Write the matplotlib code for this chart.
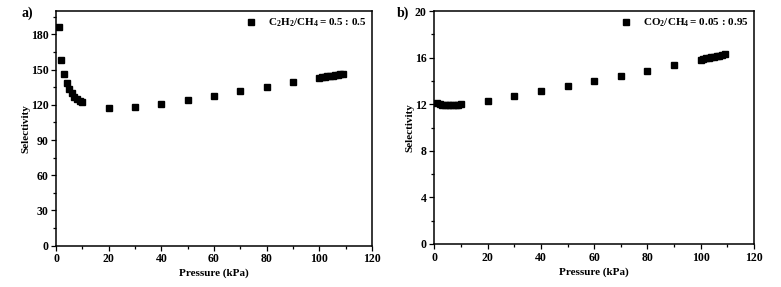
import numpy as np
import matplotlib
matplotlib.use("Agg")
import matplotlib.pyplot as plt
from matplotlib.ticker import MultipleLocator

plt.rcParams["font.family"] = "Liberation Serif"
plt.rcParams["font.weight"] = "bold"
plt.rcParams["mathtext.fontset"] = "custom"
plt.rcParams["mathtext.bf"] = "Liberation Serif:bold"
plt.rcParams["mathtext.rm"] = "Liberation Serif:bold"
plt.rcParams["mathtext.default"] = "bf"

# pressure points (kPa)
p = [1, 2, 3, 4, 5, 6, 7, 8, 9, 10, 20, 30, 40, 50, 60, 70, 80, 90,
     100, 101, 102, 103, 104, 105, 106, 107, 108, 109]

# a) C2H2/CH4 selectivity
sel_a = [186.3, 158.4, 146.4, 138.7, 133.6, 130.0, 127.0, 125.0, 123.4, 122.0,
         117.0, 117.9, 120.8, 124.2, 127.9, 131.6, 135.3, 139.3,
         143.0, 143.4, 143.8, 144.2, 144.6, 145.0, 145.4, 145.8, 146.2, 146.7]

# b) CO2/CH4 selectivity
sel_b = [12.10, 12.02, 11.97, 11.94, 11.92, 11.92, 11.93, 11.95, 11.97, 12.00,
         12.29, 12.69, 13.11, 13.54, 14.00, 14.46, 14.89, 15.34,
         15.83, 15.88, 15.93, 15.98, 16.03, 16.08, 16.13, 16.18, 16.23, 16.29]

fig = plt.figure(figsize=(7.81, 2.87), dpi=100)
ax1 = fig.add_axes([56/781, 1-245.6/287, (372-56)/781, (245.6-11)/287])
ax2 = fig.add_axes([434.3/781, 1-244/287, (754-434.3)/781, (244-11)/287])

def style(ax, ymax, ymaj, ymin):
    ax.set_xlim(0, 120)
    ax.set_ylim(0, ymax)
    ax.xaxis.set_major_locator(MultipleLocator(20))
    ax.xaxis.set_minor_locator(MultipleLocator(10))
    ax.yaxis.set_major_locator(MultipleLocator(ymaj))
    ax.yaxis.set_minor_locator(MultipleLocator(ymin))
    ax.tick_params(which="both", direction="out", top=False, right=False, labelsize=8.5, pad=2)
    ax.tick_params(which="major", length=3.5, width=0.9)
    ax.tick_params(which="minor", length=2, width=0.9)
    for s in ax.spines.values():
        s.set_linewidth(1.1)
    ax.set_xlabel("Pressure (kPa)", fontsize=8, fontweight="bold", labelpad=2.5)
    ax.set_ylabel("Selectivity", fontsize=8, fontweight="bold", labelpad=0)

ax1.plot(p, sel_a, "s", color="black", markersize=4.3,
         label=r"C$_2$H$_2$/CH$_4$$\,$= 0.5 : 0.5")
style(ax1, 200, 30, 15)
ax2.plot(p, sel_b, "s", color="black", markersize=4.3,
         label=r"CO$_2$/CH$_4$$\,$= 0.05 : 0.95")
style(ax2, 20, 4, 2)

for ax in (ax1, ax2):
    ax.legend(loc="upper right", frameon=False, fontsize=8, handletextpad=1.0,
              handlelength=1.0, borderaxespad=0.1, markerscale=0.85)

fig.text(22/781, 1-13/287, "a)", fontsize=10, fontweight="bold", va="center")
fig.text(397/781, 1-13/287, "b)", fontsize=10, fontweight="bold", va="center")

fig.savefig("out.png", dpi=100)
